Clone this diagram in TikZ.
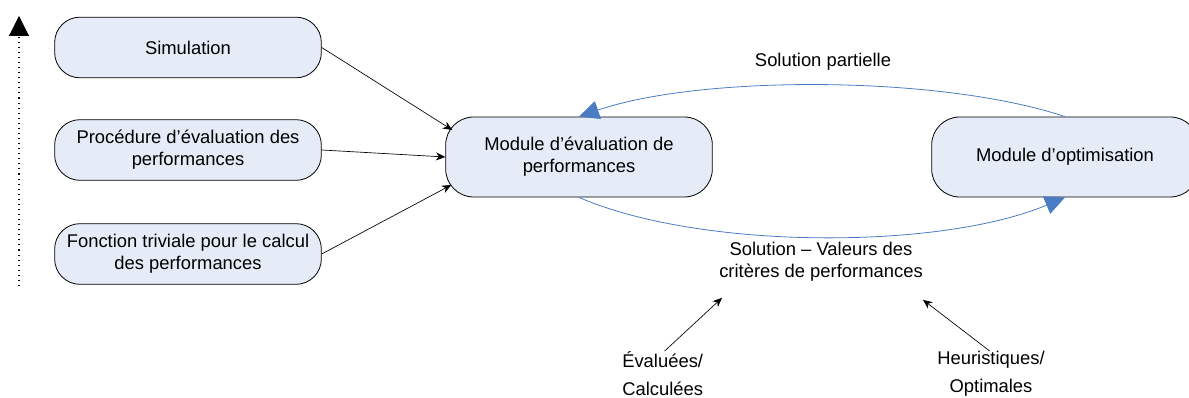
\documentclass[tikz,border=0pt]{standalone}
\usepackage{fontspec}
\setmainfont{Liberation Sans}
\usetikzlibrary{arrows.meta,calc}
\definecolor{boxfill}{HTML}{E6ECF7}
\definecolor{flow}{HTML}{4A7CC4}
\begin{document}
\begin{tikzpicture}[x=0.75pt,y=-0.75pt,
  every node/.style={font=\fontsize{13.8}{16.5}\selectfont, align=center, inner sep=0pt},
  pill/.style={draw=black, line width=0.6pt, fill=boxfill, rounded corners=19pt, minimum width=200pt, minimum height=45.5pt},
  bigpill/.style={pill, rounded corners=21pt, minimum height=60pt},
  feed/.style={draw=black, line width=0.5pt, -{Stealth[length=7pt,width=6pt]}},
  loop/.style={draw=flow, line width=0.6pt, -{Triangle[length=15pt,width=14pt]}},
  lbl/.style={}]
\useasboundingbox (0,0) rectangle (1189,398);
\node[pill] (sim) at (188,47.5) {Simulation};
\node[pill] (proc) at (188,150) {Procédure d’évaluation des\\performances};
\node[pill] (fonc) at (188,254) {Fonction triviale pour le calcul\\des performances};
\node[bigpill] (eval) at (579,157) {Module d’évaluation de\\performances};
\node[bigpill] (opt) at (1065,157) {Module d’optimisation};

\draw[feed] (sim.east) -- ([shift={(7,-27)}]eval.west);
\draw[feed] (proc.east) -- (eval.west);
\draw[feed] (fonc.east) -- ([shift={(6,28)}]eval.west);

\draw[loop] (opt.north) .. controls (940,75) and (700,75) .. (eval.north);
\draw[loop] (eval.south) .. controls (700,250) and (940,250) .. (opt.south);

\node[lbl] (partial) at (823,62) {Solution partielle};
\node[lbl] (values) at (821,262) {Solution – Valeurs des\\critères de performances};
\node[lbl, anchor=north west, align=left, font=\fontsize{13.8}{21}\selectfont] (evalq) at (622,351) {Évaluées/\\Calculées};
\node[lbl, anchor=north, font=\fontsize{13.8}{21}\selectfont] (heur) at (991,351) {Heuristiques/\\Optimales};

\draw[feed] ([xshift=32]evalq.north west) -- ([shift={(-99,16)}]values.south);
\draw[feed] ([xshift=-1]heur.north) -- ([shift={(102,18)}]values.south);

\coordinate (dbot) at (19,286);
\coordinate (dtop) at (19,16);
\draw[line width=0.8pt, dash pattern=on 0.8pt off 3pt, -{Triangle[length=15pt,width=15pt]}] (dbot) -- (dtop);
\end{tikzpicture}
\end{document}
